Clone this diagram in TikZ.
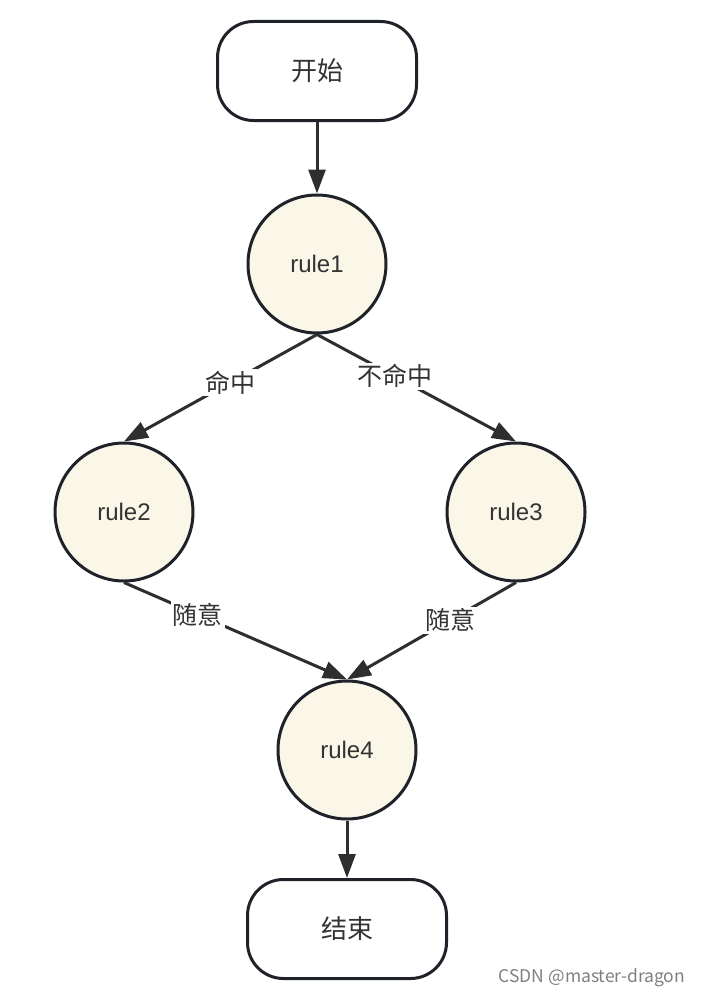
\documentclass[tikz,border=0pt]{standalone}
\usepackage{fontspec}
\setmainfont{Noto Sans CJK SC}
\newfontfamily\latinsans{Liberation Sans}
\usetikzlibrary{arrows.meta}
\definecolor{edgec}{HTML}{2E2E2E}
\definecolor{borderc}{HTML}{1F2329}
\definecolor{cream}{HTML}{FAF7E9}
\definecolor{txt}{HTML}{333333}
\begin{document}
\begin{tikzpicture}[x=1pt,y=-1pt,
  termbox/.style={draw=borderc,line width=3pt,rounded corners=36pt,fill=white,
    minimum width=199pt,minimum height=99pt,text=txt,font=\fontsize{26}{30}\selectfont},
  rulenode/.style={circle,draw=borderc,line width=3pt,fill=cream,minimum size=138pt,
    inner sep=0pt,text=txt,font=\latinsans\fontsize{24}{28}\selectfont},
  conn/.style={draw=edgec,line width=3pt,-{Triangle[length=24pt,width=17pt]}},
  lbl/.style={fill=white,inner sep=2pt,text=txt,font=\fontsize{25}{29}\selectfont}]
\useasboundingbox (0,0) rectangle (702,998);
\fill[white] (0,0) rectangle (702,998);
\node[termbox] (start) at (317,71) {开始};
\node[rulenode] (r1) at (317,264) {rule1};
\node[rulenode] (r2) at (124,512) {rule2};
\node[rulenode] (r3) at (516,512) {rule3};
\node[rulenode] (r4) at (347,750) {rule4};
\node[termbox] (end) at (347,929) {结束};
\draw[conn] (start.south) -- (r1.north);
\draw[conn] (r1.south) -- node[lbl,pos=0.45] (l1) {命中} (r2.north);
\draw[conn] (r1.south) -- node[lbl,pos=0.39] (l2) {不命中} (r3.north);
\draw[conn] (r2.south) -- node[lbl,pos=0.33] (l3) {随意} (r4.north);
\draw[conn] (r3.south) -- node[lbl,pos=0.39] (l4) {随意} (r4.north);
\draw[conn] (r4.south) -- (end.north);
\node[text=black!50,font=\fontsize{17.5}{21}\selectfont] (wm) at (592,978) {CSDN @master-dragon};
\end{tikzpicture}
\end{document}
